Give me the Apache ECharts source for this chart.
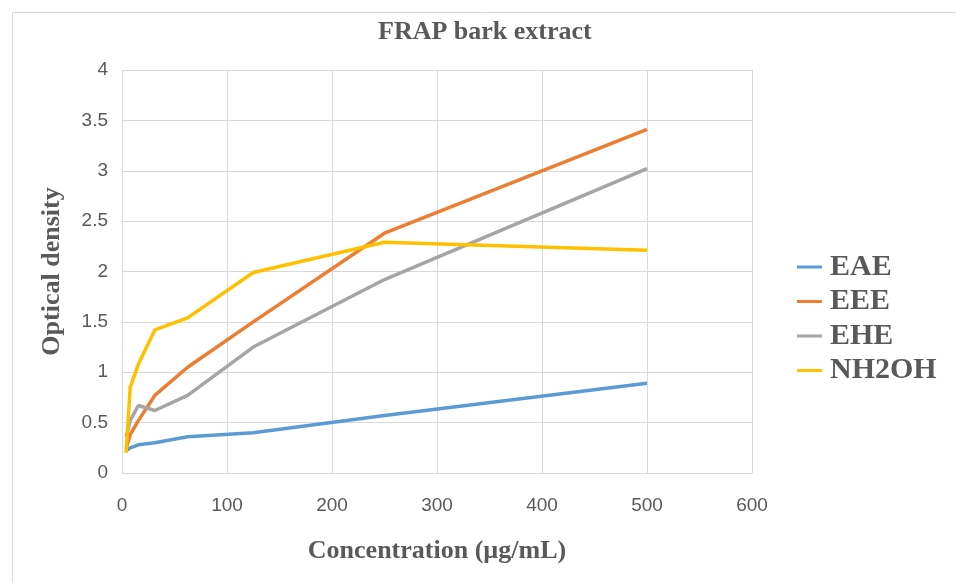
<!DOCTYPE html>
<html>
<head>
<meta charset="utf-8">
<script src="https://cdn.jsdelivr.net/npm/echarts@6/dist/echarts.min.js"></script>
<style>
html,body{margin:0;padding:0;background:#fff;}
#chart{width:956px;height:582px;}
</style>
</head>
<body>
<div id="chart"></div>
<script>
const concentrations = [3.9, 7.8, 15.6, 31.25, 62.5, 125, 250, 500];
const EAE   = [0.22, 0.25, 0.28, 0.30, 0.36, 0.40, 0.57, 0.89];
const EEE   = [0.24, 0.38, 0.52, 0.77, 1.05, 1.50, 2.38, 3.41];
const EHE   = [0.36, 0.52, 0.67, 0.62, 0.77, 1.25, 1.92, 3.02];
const NH2OH = [0.20, 0.85, 1.08, 1.42, 1.54, 1.99, 2.29, 2.21];
const seriesNames = ['EAE', 'EEE', 'EHE', 'NH2OH'];
const seriesValues = [EAE, EEE, EHE, NH2OH];
const colors = ['#5B9BD5', '#ED7D31', '#A5A5A5', '#FFC000'];

const serif = '"Liberation Serif", "DejaVu Serif", serif';
const sans = '"Liberation Sans", Arial, sans-serif';
const textColor = '#595959';
const gridColor = '#d9d9d9';

const chart = echarts.init(document.getElementById('chart'), null, {renderer: 'canvas'});
chart.setOption({
  animation: false,
  backgroundColor: '#ffffff',
  color: colors,
  title: {
    text: 'FRAP bark extract',
    left: 373,
    top: 14,
    textStyle: {fontFamily: serif, fontWeight: 'bold', fontSize: 26, color: textColor}
  },
  graphic: [{
    type: 'rect',
    shape: {x: 12.5, y: 12.5, width: 960, height: 600},
    style: {fill: 'none', stroke: gridColor, lineWidth: 1},
    silent: true
  }],
  legend: {
    orient: 'vertical',
    left: 797,
    top: 252,
    padding: 0,
    itemGap: 4.5,
    itemWidth: 25,
    itemHeight: 3,
    icon: 'rect',
    data: seriesNames,
    textStyle: {fontFamily: serif, fontWeight: 'bold', fontSize: 30, color: textColor, padding: [0, 0, 0, 3]}
  },
  grid: {left: 122, right: 204, top: 70, bottom: 109},
  xAxis: {
    type: 'value',
    min: 0, max: 600, interval: 100,
    name: 'Concentration (µg/mL)',
    nameLocation: 'middle',
    nameGap: 65,
    nameTextStyle: {fontFamily: serif, fontWeight: 'bold', fontSize: 26, color: textColor},
    axisLine: {show: true, lineStyle: {color: gridColor, width: 1}},
    axisTick: {show: false},
    axisLabel: {fontFamily: sans, fontSize: 19, color: textColor, margin: 23},
    splitLine: {show: true, lineStyle: {color: gridColor, width: 1}}
  },
  yAxis: {
    type: 'value',
    min: 0, max: 4, interval: 0.5,
    name: 'Optical density',
    nameLocation: 'middle',
    nameGap: 57,
    nameTextStyle: {fontFamily: serif, fontWeight: 'bold', fontSize: 26, color: textColor},
    axisLine: {show: true, lineStyle: {color: gridColor, width: 1}},
    axisTick: {show: false},
    axisLabel: {fontFamily: sans, fontSize: 19, color: textColor, margin: 14},
    splitLine: {show: true, lineStyle: {color: gridColor, width: 1}}
  },
  series: seriesNames.map((name, i) => ({
    name: name,
    type: 'line',
    data: concentrations.map((x, j) => [x, seriesValues[i][j]]),
    symbol: 'none',
    smooth: false,
    lineStyle: {width: 3.5, color: colors[i]},
    itemStyle: {color: colors[i]}
  }))
});
</script>
</body>
</html>
